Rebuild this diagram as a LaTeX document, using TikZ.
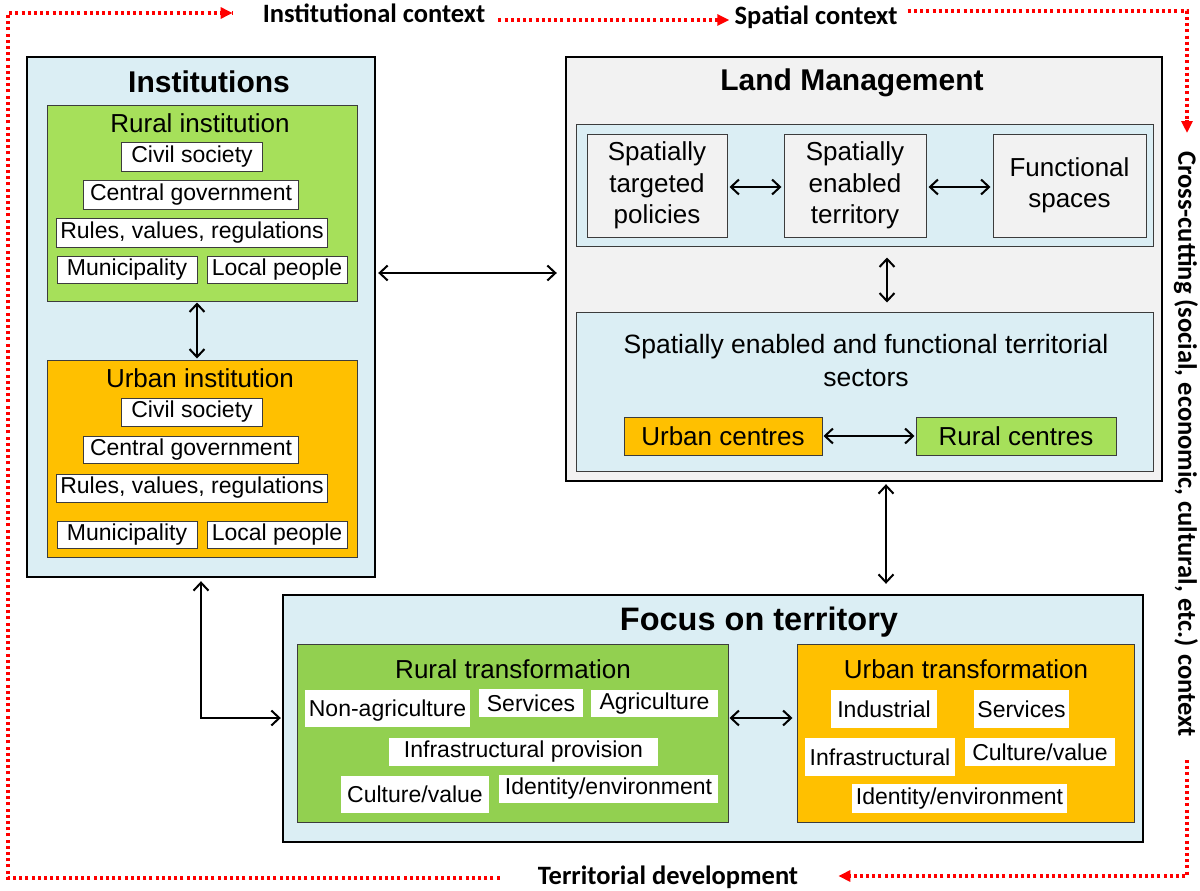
\documentclass[tikz,border=0pt]{standalone}
\usepackage{fontspec}
\setmainfont{Liberation Sans}
\newfontfamily\lblfont{Carlito}
\usetikzlibrary{arrows.meta}
\definecolor{panelblue}{RGB}{219,238,244}
\definecolor{lmgray}{RGB}{242,242,242}
\definecolor{brightgreen}{RGB}{166,224,90}
\definecolor{leafgreen}{RGB}{146,208,80}
\definecolor{amber}{RGB}{255,192,0}
\definecolor{edgegray}{RGB}{60,60,60}
\definecolor{ctxred}{RGB}{255,0,0}

\begin{document}
\begin{tikzpicture}[x=1pt,y=-1pt,
  outerbox/.style={draw=black,line width=2.4pt,inner sep=0pt},
  innerbox/.style={draw=edgegray,line width=1pt,inner sep=0pt},
  itembox/.style={draw=edgegray,line width=0.9pt,fill=white,inner sep=0pt,font=\fontsize{23}{27}\selectfont},
  plainitem/.style={fill=white,inner sep=0pt,font=\fontsize{23}{27}\selectfont},
  lmitem/.style={draw=edgegray,line width=1pt,fill=lmgray,inner sep=0pt,align=center,font=\fontsize{26}{31.5}\selectfont},
  headtext/.style={inner sep=0pt,font=\fontsize{26}{30}\selectfont},
  titletext/.style={inner sep=0pt,font=\bfseries\fontsize{30}{34}\selectfont},
  ctxtext/.style={inner sep=0pt,font=\lblfont\bfseries\fontsize{26.5}{30}\selectfont},
  biarrow/.style={{Straight Barb[length=8pt,width=15pt]}-{Straight Barb[length=8pt,width=15pt]},line width=2pt},
  reddots/.style={draw=ctxred,line width=3.2pt,dash pattern=on 3pt off 3.2pt},
  redtip/.style={-{Triangle[length=12pt,width=11pt]}}
]
\useasboundingbox (0,0) rectangle (1200,891);

% ---------- Institutions ----------
\node[outerbox,fill=panelblue,minimum width=348pt,minimum height=520pt] (inst) at (201,317) {};
\node[titletext] (instT) at (209,82) {Institutions};

\node[innerbox,fill=brightgreen,minimum width=310pt,minimum height=196pt] (ri) at (202,203) {};
\node[headtext] (riT) at (200,123) {Rural institution};
\node[itembox,minimum width=141pt,minimum height=29pt] (ri1) at (192,157) {Civil society};
\node[itembox,minimum width=215pt,minimum height=29pt] (ri2) at (191,195) {Central government};
\node[itembox,minimum width=271pt,minimum height=29pt] (ri3) at (192,233) {Rules, values, regulations};
\node[itembox,minimum width=140pt,minimum height=27pt] (ri4) at (127,270) {Municipality};
\node[itembox,minimum width=140pt,minimum height=27pt] (ri5) at (277,270) {Local people};

\node[innerbox,fill=amber,minimum width=310pt,minimum height=197pt] (ui) at (202,458.5) {};
\node[headtext] (uiT) at (200,378) {Urban institution};
\node[itembox,minimum width=141pt,minimum height=28pt] (ui1) at (192,412) {Civil society};
\node[itembox,minimum width=215pt,minimum height=27pt] (ui2) at (191,450) {Central government};
\node[itembox,minimum width=271pt,minimum height=28pt] (ui3) at (192,488) {Rules, values, regulations};
\node[itembox,minimum width=140pt,minimum height=27pt] (ui4) at (127,535) {Municipality};
\node[itembox,minimum width=140pt,minimum height=27pt] (ui5) at (277,535) {Local people};

% ---------- Land Management ----------
\node[outerbox,fill=lmgray,minimum width=596pt,minimum height=424pt] (lm) at (864,269) {};
\node[titletext] (lmT) at (852,83) {Land Management};

\node[innerbox,fill=panelblue,minimum width=577pt,minimum height=122pt] (lmtop) at (864.5,185) {};
\node[lmitem,minimum width=140pt,minimum height=103pt] (stp) at (657,185.5) {Spatially\\targeted\\policies};
\node[lmitem,minimum width=142pt,minimum height=103pt] (set) at (855,185.5) {Spatially\\enabled\\territory};
\node[lmitem,minimum width=153pt,minimum height=103pt] (fs) at (1069.5,185.5) {Functional\\spaces};

\node[innerbox,fill=panelblue,minimum width=577pt,minimum height=159pt] (lmlow) at (864.5,391.5) {};
\node[headtext,align=center,font=\fontsize{26.5}{33}\selectfont] (sect) at (866,361) {Spatially enabled and functional territorial\\sectors};
\node[innerbox,fill=amber,minimum width=198pt,minimum height=38pt,font=\fontsize{26}{30}\selectfont] (uc) at (723,436) {Urban centres};
\node[innerbox,fill=brightgreen,minimum width=200pt,minimum height=38pt,font=\fontsize{26}{30}\selectfont] (rc) at (1016,436) {Rural centres};

% ---------- Focus on territory ----------
\node[outerbox,fill=panelblue,minimum width=860pt,minimum height=247pt] (ft) at (713,718.5) {};
\node[titletext,font=\bfseries\fontsize{32.5}{36}\selectfont] (ftT) at (759,622) {Focus on territory};

\node[innerbox,fill=leafgreen,minimum width=431pt,minimum height=178pt] (rt) at (512.5,733) {};
\node[headtext] (rtT) at (513,669) {Rural transformation};
\node[plainitem,minimum width=165pt,minimum height=37pt,text depth=-2pt] (rt1) at (387.5,708.5) {Non-agriculture};
\node[plainitem,minimum width=104pt,minimum height=28pt] (rt2) at (531,703) {Services};
\node[plainitem,minimum width=127pt,minimum height=27pt] (rt3) at (654.5,703.5) {Agriculture};
\node[plainitem,minimum width=269pt,minimum height=28pt] (rt4) at (523.5,752) {Infrastructural provision};
\node[plainitem,minimum width=148pt,minimum height=37pt,text depth=-2pt] (rt5) at (415,794.5) {Culture/value};
\node[plainitem,minimum width=219pt,minimum height=28pt] (rt6) at (608.5,789) {Identity/environment};

\node[innerbox,fill=amber,minimum width=337pt,minimum height=178pt] (ut) at (965.5,733) {};
\node[headtext] (utT) at (966,669) {Urban transformation};
\node[plainitem,minimum width=106pt,minimum height=38pt] (ut1) at (884,709) {Industrial};
\node[plainitem,minimum width=95pt,minimum height=38pt] (ut2) at (1021.5,709) {Services};
\node[plainitem,minimum width=150pt,minimum height=38pt,text depth=-2pt] (ut3) at (880,757) {Infrastructural};
\node[plainitem,minimum width=150pt,minimum height=28pt] (ut4) at (1040,752) {Culture/value};
\node[plainitem,minimum width=215pt,minimum height=29pt] (ut5) at (959.5,798.5) {Identity/environment};

% ---------- Connectors ----------
\coordinate (yInstLm) at (0,273);
\coordinate (xRiUi) at (197,0);
\coordinate (xLmPanels) at (887,0);
\coordinate (xLmFt) at (886,0);
\coordinate (xInstFt) at (201,0);
\coordinate (yInstFt) at (0,718);
\coordinate (yTrans) at (0,718);
\coordinate (yLmRow) at (0,187);

\draw[biarrow,shorten <=2pt,shorten >=8pt] (inst.east |- yInstLm) -- (lm.west |- yInstLm);
\draw[biarrow,shorten <=1pt,shorten >=1pt] (ri.south -| xRiUi) -- (ui.north -| xRiUi);
\draw[biarrow,shorten <=2pt,shorten >=2pt] (stp.east |- yLmRow) -- (set.west |- yLmRow);
\draw[biarrow,shorten <=2pt,shorten >=2pt] (set.east |- yLmRow) -- (fs.west |- yLmRow);
\draw[biarrow,shorten <=11pt,shorten >=9pt] (lmtop.south -| xLmPanels) -- (lmlow.north -| xLmPanels);
\draw[biarrow,shorten <=1pt,shorten >=1pt] (uc.east) -- (rc.west);
\draw[biarrow,shorten <=2pt,shorten >=10pt] (lm.south -| xLmFt) -- (ft.north -| xLmFt);
\draw[biarrow,shorten <=1pt,shorten >=4pt] (rt.east |- yTrans) -- (ut.west |- yTrans);
\draw[biarrow,shorten <=3pt,shorten >=1pt] (inst.south -| xInstFt) |- (ft.west |- yInstFt);

% ---------- Context frame ----------
\node[ctxtext] (ictx) at (374,13) {Institutional context};
\node[ctxtext] (sctx) at (816,17) {Spatial context};
\node[ctxtext,rotate=-90] (cctx) at (1186,444) {Cross-cutting (social, economic, cultural, etc.) context};
\node[ctxtext] (tdev) at (668,877) {Territorial development};

\coordinate (frTL) at (8,13);
\coordinate (frBL) at (8,878);
\coordinate (frTR) at (1187,11);
\coordinate (frBR) at (1187,876);
\coordinate (crossTop) at (1187,120);
\coordinate (crossTip) at (1187,133);
\coordinate (crossBot) at (1187,760);
\coordinate (ySp) at (0,20);

\draw[reddots] ([xshift=-38pt]tdev.west |- frBL) -- (frBL) -- (frTL) -- ([xshift=-30pt]ictx.west |- frTL);
\draw[reddots,redtip] ([xshift=-42pt]ictx.west |- frTL) -- ([xshift=-30pt]ictx.west |- frTL);
\draw[reddots] ([xshift=13pt]ictx.east |- ySp) -- ([xshift=-17pt]sctx.west |- ySp);
\draw[reddots,redtip] ([xshift=-17pt]sctx.west |- ySp) -- ([xshift=-5pt]sctx.west |- ySp);
\draw[reddots] ([xshift=10pt]sctx.east |- frTR) -- (frTR) -- (crossTop);
\draw[reddots,redtip] (crossTop) -- (crossTip);
\draw[reddots] (crossBot) -- (frBR) -- ([xshift=52pt]tdev.east |- frBR);
\draw[reddots,redtip] ([xshift=52pt]tdev.east |- frBR) -- ([xshift=40pt]tdev.east |- frBR);
\end{tikzpicture}
\end{document}
